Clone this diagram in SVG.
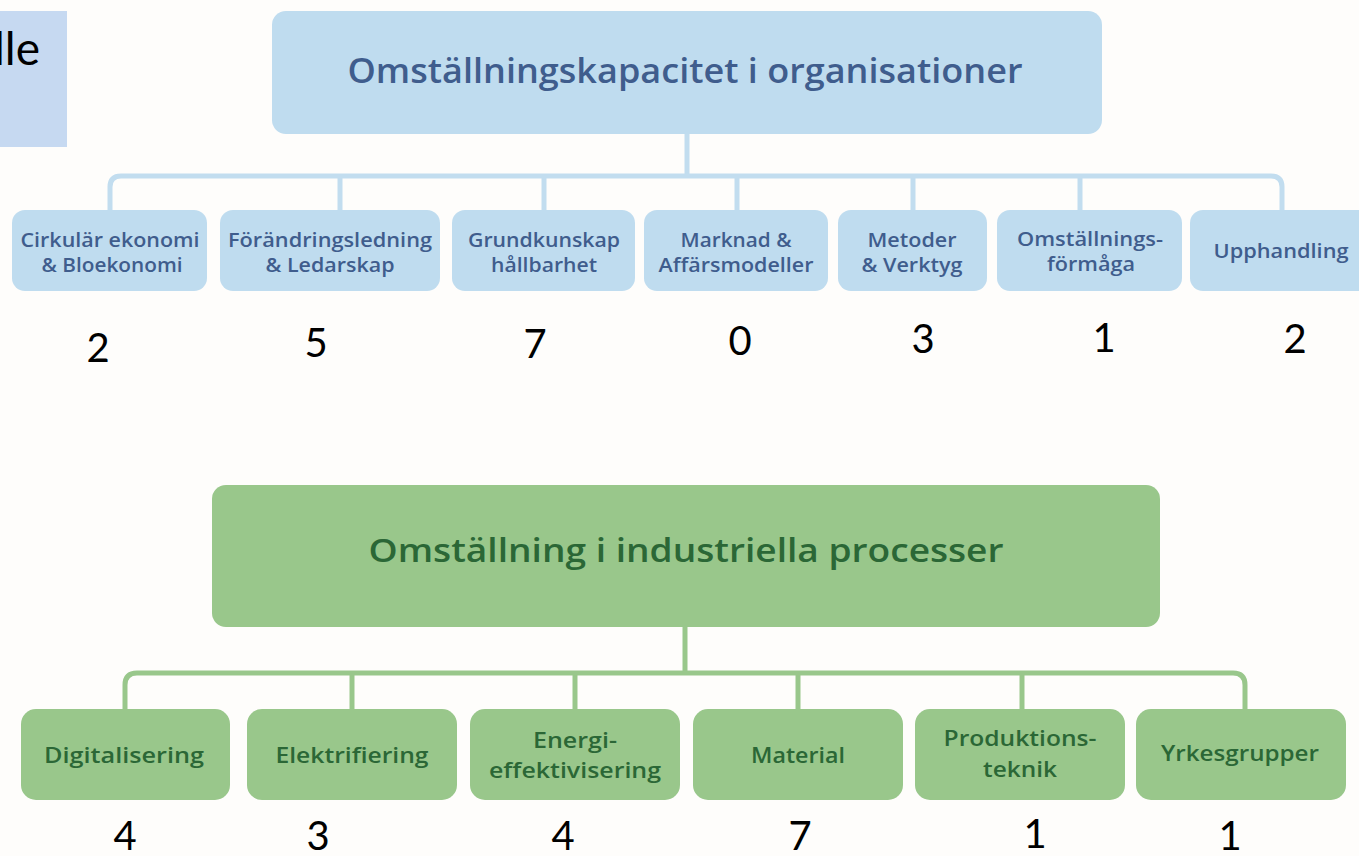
<svg xmlns="http://www.w3.org/2000/svg" width="1359" height="856" viewBox="0 0 1359 856">
<style>
.bg{fill:#fefdfb}
.bbox{fill:#bfdcef}
.gbox{fill:#99c78b}
.bl{fill:none;stroke:#c2ddef;stroke-width:5}
.gl{fill:none;stroke:#99c78b;stroke-width:5}
.bt{font-family:"Open Sans","Noto Sans",sans-serif;font-weight:600;fill:#3f5d8d;text-anchor:middle}
.gt{font-family:"Open Sans","Noto Sans",sans-serif;font-weight:600;fill:#2b6736;text-anchor:middle}
.s{font-size:19px}
.m{font-size:21.5px}
.num{font-family:Lato,"Liberation Sans",sans-serif;font-size:40px;fill:#000;text-anchor:middle}
</style>
<rect class="bg" x="0" y="0" width="1359" height="856"/>
<g id="side-note">
<rect x="0" y="11" width="67" height="136" fill="#c6d9f1"/>
<text x="40" y="65" font-family="Lato,'Liberation Sans',sans-serif" font-size="46" fill="#000" text-anchor="end">lle</text>
</g>
<g id="connectors">
<path class="bl" d="M687 134 V176"/>
<path class="bl" d="M110 211 V187 Q110 176 121 176 H1271 Q1282 176 1282 187 V211"/>
<path class="bl" d="M340 176 V211 M544 176 V211 M737 176 V211 M913 176 V211 M1080 176 V211"/>
<path class="gl" d="M685 627 V673"/>
<path class="gl" d="M125 709 V685 Q125 673 137 673 H1233 Q1245 673 1245 685 V709"/>
<path class="gl" d="M352 673 V709 M575 673 V709 M798 673 V709 M1022 673 V709"/>
</g>
<g id="org">
<rect class="bbox" x="272" y="11" width="830" height="123" rx="14"/>
<text class="bt" x="685" y="83" font-size="34" textLength="675" lengthAdjust="spacingAndGlyphs">Omställningskapacitet i organisationer</text>
</g>
<g id="cirkular">
<rect class="bbox" x="12" y="210" width="195" height="81" rx="13"/>
<text class="bt s" x="110" y="247" textLength="179" lengthAdjust="spacingAndGlyphs">Cirkulär ekonomi</text>
<text class="bt s" x="112" y="272" textLength="141" lengthAdjust="spacingAndGlyphs">&amp; Bloekonomi</text>
</g>
<g id="forandring">
<rect class="bbox" x="220" y="210" width="220" height="81" rx="13"/>
<text class="bt s" x="330" y="247" textLength="204" lengthAdjust="spacingAndGlyphs">Förändringsledning</text>
<text class="bt s" x="330" y="272" textLength="129" lengthAdjust="spacingAndGlyphs">&amp; Ledarskap</text>
</g>
<g id="grundkunskap">
<rect class="bbox" x="452" y="210" width="183" height="81" rx="13"/>
<text class="bt s" x="544" y="247" textLength="152" lengthAdjust="spacingAndGlyphs">Grundkunskap</text>
<text class="bt s" x="544" y="272" textLength="106" lengthAdjust="spacingAndGlyphs">hållbarhet</text>
</g>
<g id="marknad">
<rect class="bbox" x="644" y="210" width="184" height="81" rx="13"/>
<text class="bt s" x="736" y="247" textLength="111" lengthAdjust="spacingAndGlyphs">Marknad &amp;</text>
<text class="bt s" x="736" y="272" textLength="155" lengthAdjust="spacingAndGlyphs">Affärsmodeller</text>
</g>
<g id="metoder">
<rect class="bbox" x="838" y="210" width="149" height="81" rx="13"/>
<text class="bt s" x="912" y="247" textLength="89" lengthAdjust="spacingAndGlyphs">Metoder</text>
<text class="bt s" x="912" y="272" textLength="101" lengthAdjust="spacingAndGlyphs">&amp; Verktyg</text>
</g>
<g id="omstallningsformaga">
<rect class="bbox" x="997" y="210" width="185" height="81" rx="13"/>
<text class="bt s" x="1090" y="246" textLength="146" lengthAdjust="spacingAndGlyphs">Omställnings-</text>
<text class="bt s" x="1091" y="271" textLength="88" lengthAdjust="spacingAndGlyphs">förmåga</text>
</g>
<g id="upphandling">
<rect class="bbox" x="1190" y="210" width="185" height="81" rx="13"/>
<text class="bt s" x="1281" y="258" textLength="135" lengthAdjust="spacingAndGlyphs">Upphandling</text>
</g>
<g id="counts-top">
<text class="num" x="98" y="362">2</text>
<text class="num" x="316" y="357">5</text>
<text class="num" x="535" y="358">7</text>
<text class="num" x="740" y="355">0</text>
<text class="num" x="923" y="353">3</text>
<text class="num" x="1104" y="352">1</text>
<text class="num" x="1295" y="353">2</text>
</g>
<g id="industri">
<rect class="gbox" x="212" y="485" width="948" height="142" rx="14"/>
<text class="gt" x="686" y="562" font-size="33" textLength="635" lengthAdjust="spacingAndGlyphs">Omställning i industriella processer</text>
</g>
<g id="digitalisering">
<rect class="gbox" x="21" y="709" width="209" height="91" rx="15"/>
<text class="gt m" x="124" y="763" textLength="160" lengthAdjust="spacingAndGlyphs">Digitalisering</text>
</g>
<g id="elektrifiering">
<rect class="gbox" x="247" y="709" width="210" height="91" rx="15"/>
<text class="gt m" x="352" y="763" textLength="153" lengthAdjust="spacingAndGlyphs">Elektrifiering</text>
</g>
<g id="energi">
<rect class="gbox" x="470" y="709" width="210" height="91" rx="15"/>
<text class="gt m" x="575" y="748" textLength="84" lengthAdjust="spacingAndGlyphs">Energi-</text>
<text class="gt m" x="575" y="778" textLength="172" lengthAdjust="spacingAndGlyphs">effektivisering</text>
</g>
<g id="material">
<rect class="gbox" x="693" y="709" width="210" height="91" rx="15"/>
<text class="gt m" x="798" y="763" textLength="94" lengthAdjust="spacingAndGlyphs">Material</text>
</g>
<g id="produktionsteknik">
<rect class="gbox" x="915" y="709" width="210" height="91" rx="15"/>
<text class="gt m" x="1020" y="746" textLength="153" lengthAdjust="spacingAndGlyphs">Produktions-</text>
<text class="gt m" x="1020" y="777" textLength="74" lengthAdjust="spacingAndGlyphs">teknik</text>
</g>
<g id="yrkesgrupper">
<rect class="gbox" x="1136" y="709" width="210" height="91" rx="15"/>
<text class="gt m" x="1240" y="761" textLength="158" lengthAdjust="spacingAndGlyphs">Yrkesgrupper</text>
</g>
<g id="counts-bottom">
<text class="num" x="125" y="850">4</text>
<text class="num" x="318" y="850">3</text>
<text class="num" x="563" y="850">4</text>
<text class="num" x="800" y="850">7</text>
<text class="num" x="1035" y="848">1</text>
<text class="num" x="1230" y="850">1</text>
</g>
</svg>
